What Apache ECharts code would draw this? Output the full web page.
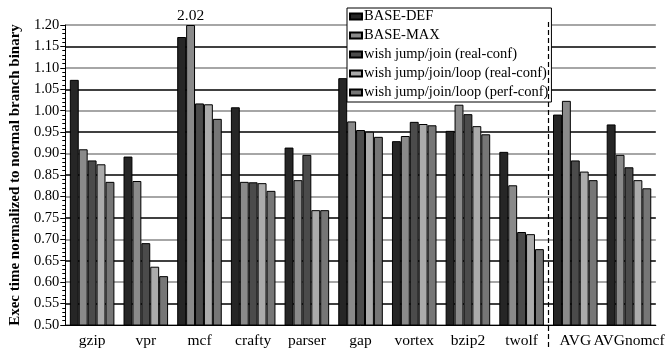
<!DOCTYPE html>
<html>
<head>
<meta charset="utf-8">
<script src="https://cdn.jsdelivr.net/npm/echarts@6/dist/echarts.min.js"></script>
<style>html,body{margin:0;padding:0;background:#fff}#c{width:667px;height:350px}</style>
</head>
<body>
<div id="c"></div>
<script>
var categories = ['gzip','vpr','mcf','crafty','parser','gap','vortex','bzip2','twolf','AVG','AVGnomcf'];
var seriesNames = ['BASE-DEF','BASE-MAX','wish jump/join (real-conf)','wish jump/join/loop (real-conf)','wish jump/join/loop (perf-conf)'];
var baseDef   = [1.072, 0.893, 1.172, 1.008, 0.914, 1.076, 0.929, 0.953, 0.904, 0.991, 0.968];
var baseMax   = [0.910, 0.836, 2.02,  0.834, 0.838, 0.975, 0.941, 1.014, 0.826, 1.023, 0.897];
var wishReal  = [0.884, 0.691, 1.017, 0.833, 0.897, 0.955, 0.974, 0.992, 0.717, 0.884, 0.868];
var wishLoop  = [0.875, 0.636, 1.015, 0.831, 0.768, 0.951, 0.969, 0.964, 0.712, 0.858, 0.838];
var wishPerf  = [0.834, 0.614, 0.981, 0.813, 0.768, 0.939, 0.966, 0.945, 0.677, 0.838, 0.819];
var yTickMin = 0.5, yTickMax = 1.2, yTickStep = 0.05;

var allValues = [baseDef, baseMax, wishReal, wishLoop, wishPerf];
var colors = ['#262626','#8a8a8a','#4b4b4b','#ababab','#767676'];
var FONT = 'Liberation Serif';

var chart = echarts.init(document.getElementById('c'));
var series = allValues.map(function(vals, i){
  return {
    name: seriesNames[i],
    type: 'bar',
    barGap: '0%',
    barCategoryGap: '17%',
    itemStyle: {color: colors[i], borderColor: '#000', borderWidth: 1},
    data: vals.map(function(v){
      var clipped = v > yTickMax;
      return {
        value: clipped ? yTickMax : v,
        label: {show: clipped, position: 'top', distance: 1, formatter: v.toFixed(2),
                fontFamily: FONT, fontSize: 15.5, color: '#000'}
      };
    })
  };
});

chart.setOption({
  animation: false,
  backgroundColor: '#fff',
  color: colors,
  grid: {left: 57, right: 7, top: 25, bottom: 25},
  legend: {
    orient: 'vertical',
    left: 347, top: 8,
    padding: [1, 3, 2, 2],
    itemGap: 4,
    itemWidth: 12, itemHeight: 6,
    icon: 'rect',
    backgroundColor: '#fff',
    borderColor: '#000', borderWidth: 1,
    textStyle: {fontFamily: FONT, fontSize: 14.5, lineHeight: 14, color: '#000', padding: [0,0,0,-3]},
    data: seriesNames
  },
  xAxis: {
    type: 'category',
    data: categories,
    axisLine: {lineStyle: {color: '#000', width: 1}},
    axisTick: {alignWithLabel: true, length: 5, lineStyle: {color: '#000'}},
    axisLabel: {interval: 0, hideOverlap: false, fontFamily: FONT, fontSize: 15.5, color: '#000', margin: 8}
  },
  yAxis: {
    type: 'value',
    min: yTickMin, max: yTickMax, interval: yTickStep,
    name: 'Exec time normalized to normal branch binary',
    nameLocation: 'middle', nameGap: 42,
    nameTextStyle: {fontFamily: FONT, fontSize: 15, fontWeight: 'bold', color: '#000'},
    axisLine: {show: true, lineStyle: {color: '#000'}},
    axisTick: {show: true, length: 5, lineStyle: {color: '#000'}},
    minorTick: {show: true, splitNumber: 5, length: 3, lineStyle: {color: '#000'}},
    axisLabel: {fontFamily: FONT, fontSize: 14.5, color: '#000', margin: 6,
                formatter: function(v){ return v.toFixed(2); }},
    splitLine: {show: true, lineStyle: {color: ['#888888', '#000000'], width: 1.5}}
  },
  series: series
});

var xa = chart.convertToPixel({xAxisIndex: 0}, 'twolf');
var xb = chart.convertToPixel({xAxisIndex: 0}, 'AVG');
var xm = Math.round((xa + xb) / 2) + 0.5;
chart.setOption({
  graphic: [{
    type: 'line', z: 100,
    shape: {x1: xm, y1: 22, x2: xm, y2: 350},
    style: {stroke: '#000', lineWidth: 1.2, lineDash: [5, 3]}
  }]
});
</script>
</body>
</html>
